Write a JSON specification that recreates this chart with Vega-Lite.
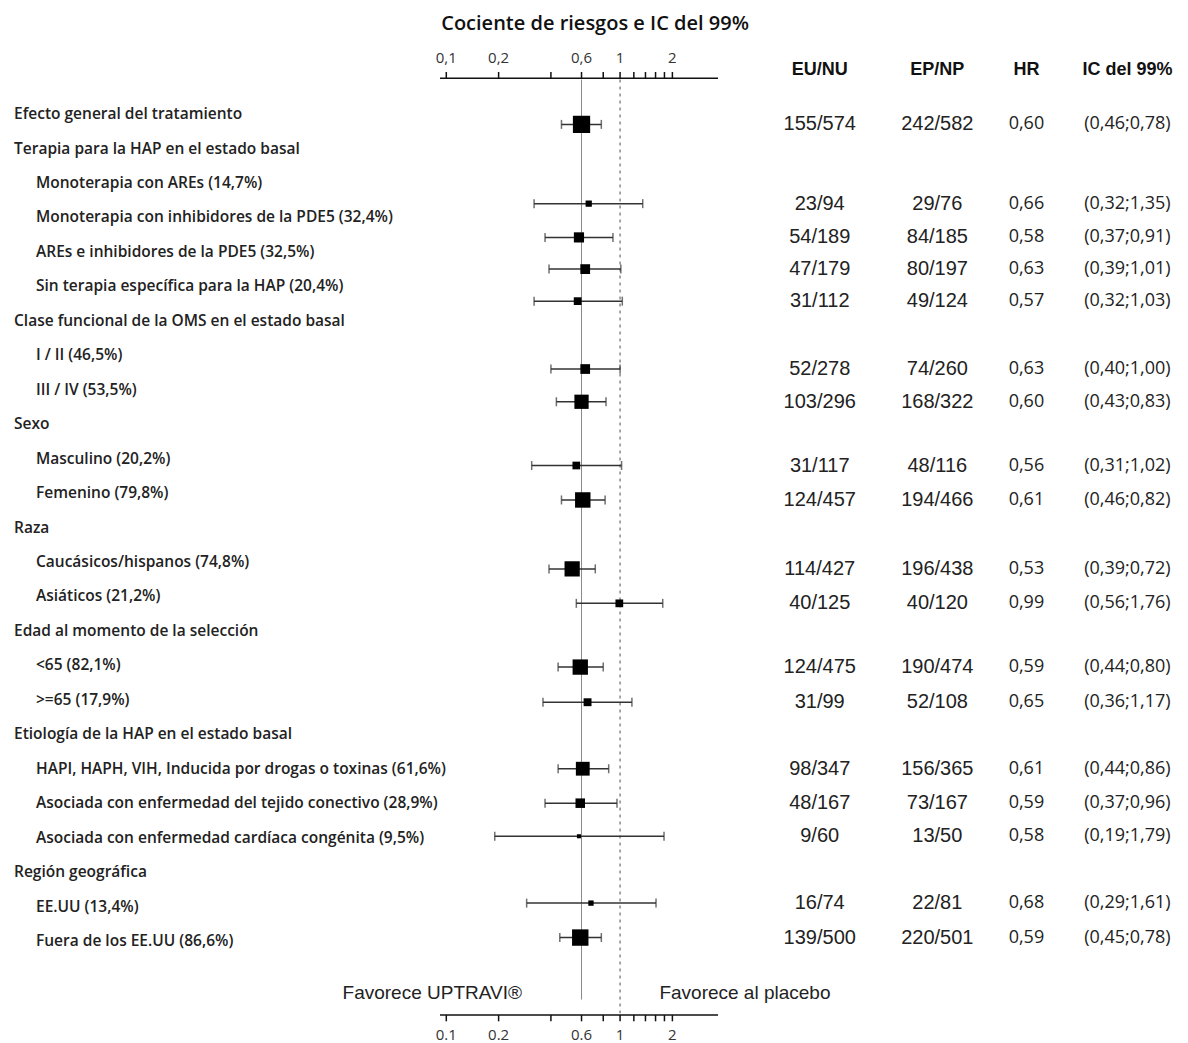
{
  "$schema": "https://vega.github.io/schema/vega-lite/v6.json",
  "width": 1188,
  "height": 1043,
  "padding": 0,
  "autosize": {"type": "fit", "contains": "padding"},
  "background": "white",
  "config": {"view": {"stroke": null}},
  "datasets": {
    "rows": [
      {"y": 0.3, "hr": 0.60, "lo": 0.46, "hi": 0.78, "n": 397, "eu": "155/574", "ep": "242/582", "hrt": "0,60", "ic": "(0,46;0,78)"},
      {"y": 2.6, "hr": 0.66, "lo": 0.32, "hi": 1.35, "n": 52, "eu": "23/94", "ep": "29/76", "hrt": "0,66", "ic": "(0,32;1,35)"},
      {"y": 3.58, "hr": 0.58, "lo": 0.37, "hi": 0.91, "n": 138, "eu": "54/189", "ep": "84/185", "hrt": "0,58", "ic": "(0,37;0,91)"},
      {"y": 4.5, "hr": 0.63, "lo": 0.39, "hi": 1.01, "n": 127, "eu": "47/179", "ep": "80/197", "hrt": "0,63", "ic": "(0,39;1,01)"},
      {"y": 5.43, "hr": 0.57, "lo": 0.32, "hi": 1.03, "n": 80, "eu": "31/112", "ep": "49/124", "hrt": "0,57", "ic": "(0,32;1,03)"},
      {"y": 7.4, "hr": 0.63, "lo": 0.40, "hi": 1.00, "n": 126, "eu": "52/278", "ep": "74/260", "hrt": "0,63", "ic": "(0,40;1,00)"},
      {"y": 8.35, "hr": 0.60, "lo": 0.43, "hi": 0.83, "n": 271, "eu": "103/296", "ep": "168/322", "hrt": "0,60", "ic": "(0,43;0,83)"},
      {"y": 10.2, "hr": 0.56, "lo": 0.31, "hi": 1.02, "n": 79, "eu": "31/117", "ep": "48/116", "hrt": "0,56", "ic": "(0,31;1,02)"},
      {"y": 11.2, "hr": 0.61, "lo": 0.46, "hi": 0.82, "n": 318, "eu": "124/457", "ep": "194/466", "hrt": "0,61", "ic": "(0,46;0,82)"},
      {"y": 13.2, "hr": 0.53, "lo": 0.39, "hi": 0.72, "n": 310, "eu": "114/427", "ep": "196/438", "hrt": "0,53", "ic": "(0,39;0,72)"},
      {"y": 14.2, "hr": 0.99, "lo": 0.56, "hi": 1.76, "n": 80, "eu": "40/125", "ep": "40/120", "hrt": "0,99", "ic": "(0,56;1,76)"},
      {"y": 16.05, "hr": 0.59, "lo": 0.44, "hi": 0.80, "n": 314, "eu": "124/475", "ep": "190/474", "hrt": "0,59", "ic": "(0,44;0,80)"},
      {"y": 17.07, "hr": 0.65, "lo": 0.36, "hi": 1.17, "n": 83, "eu": "31/99", "ep": "52/108", "hrt": "0,65", "ic": "(0,36;1,17)"},
      {"y": 19.0, "hr": 0.61, "lo": 0.44, "hi": 0.86, "n": 254, "eu": "98/347", "ep": "156/365", "hrt": "0,61", "ic": "(0,44;0,86)"},
      {"y": 20.0, "hr": 0.59, "lo": 0.37, "hi": 0.96, "n": 121, "eu": "48/167", "ep": "73/167", "hrt": "0,59", "ic": "(0,37;0,96)"},
      {"y": 20.96, "hr": 0.58, "lo": 0.19, "hi": 1.79, "n": 22, "eu": "9/60", "ep": "13/50", "hrt": "0,58", "ic": "(0,19;1,79)"},
      {"y": 22.9, "hr": 0.68, "lo": 0.29, "hi": 1.61, "n": 38, "eu": "16/74", "ep": "22/81", "hrt": "0,68", "ic": "(0,29;1,61)"},
      {"y": 23.9, "hr": 0.59, "lo": 0.45, "hi": 0.78, "n": 359, "eu": "139/500", "ep": "220/501", "hrt": "0,59", "ic": "(0,45;0,78)"}
    ],
    "cols": [
      {"col": "g", "pos": 1.18},
      {"col": "s", "pos": 3.03},
      {"col": "eu", "pos": 69.0},
      {"col": "ep", "pos": 78.9},
      {"col": "hrt", "pos": 86.4},
      {"col": "ic", "pos": 94.9}
    ],
    "labels": [
      {"k": 0, "col": "g", "t": "Efecto general del tratamiento"},
      {"k": 1, "col": "g", "t": "Terapia para la HAP en el estado basal"},
      {"k": 2, "col": "s", "t": "Monoterapia con AREs (14,7%)"},
      {"k": 3, "col": "s", "t": "Monoterapia con inhibidores de la PDE5 (32,4%)"},
      {"k": 4, "col": "s", "t": "AREs e inhibidores de la PDE5 (32,5%)"},
      {"k": 5, "col": "s", "t": "Sin terapia específica para la HAP (20,4%)"},
      {"k": 6, "col": "g", "t": "Clase funcional de la OMS  en el estado basal"},
      {"k": 7, "col": "s", "t": "I / II (46,5%)"},
      {"k": 8, "col": "s", "t": "III / IV (53,5%)"},
      {"k": 9, "col": "g", "t": "Sexo"},
      {"k": 10, "col": "s", "t": "Masculino (20,2%)"},
      {"k": 11, "col": "s", "t": "Femenino (79,8%)"},
      {"k": 12, "col": "g", "t": "Raza"},
      {"k": 13, "col": "s", "t": "Caucásicos/hispanos (74,8%)"},
      {"k": 14, "col": "s", "t": "Asiáticos (21,2%)"},
      {"k": 15, "col": "g", "t": "Edad al momento de la selección"},
      {"k": 16, "col": "s", "t": "<65 (82,1%)"},
      {"k": 17, "col": "s", "t": ">=65 (17,9%)"},
      {"k": 18, "col": "g", "t": "Etiología de la HAP en el estado basal"},
      {"k": 19, "col": "s", "t": "HAPI, HAPH, VIH, Inducida por drogas o toxinas (61,6%)"},
      {"k": 20, "col": "s", "t": "Asociada con enfermedad del tejido conectivo (28,9%)"},
      {"k": 21, "col": "s", "t": "Asociada con enfermedad cardíaca congénita (9,5%)"},
      {"k": 22, "col": "g", "t": "Región geográfica"},
      {"k": 23, "col": "s", "t": "EE.UU (13,4%)"},
      {"k": 24, "col": "s", "t": "Fuera de los EE.UU (86,6%)"}
    ],
    "ticksTop": [
      {"v": 0.1, "t": "0,1", "y": -1.04, "y2": -1.22, "ly": -1.62}, {"v": 0.2, "t": "0,2", "y": -1.04, "y2": -1.22, "ly": -1.62},
      {"v": 0.4, "t": "", "y": -1.04, "y2": -1.22, "ly": -1.62}, {"v": 0.6, "t": "0,6", "y": -1.04, "y2": -1.22, "ly": -1.62},
      {"v": 0.8, "t": "", "y": -1.04, "y2": -1.22, "ly": -1.62}, {"v": 1, "t": "1", "y": -1.04, "y2": -1.22, "ly": -1.62},
      {"v": 1.2, "t": "", "y": -1.04, "y2": -1.22, "ly": -1.62}, {"v": 1.4, "t": "", "y": -1.04, "y2": -1.22, "ly": -1.62},
      {"v": 1.6, "t": "", "y": -1.04, "y2": -1.22, "ly": -1.62}, {"v": 1.8, "t": "", "y": -1.04, "y2": -1.22, "ly": -1.62},
      {"v": 2, "t": "2", "y": -1.04, "y2": -1.22, "ly": -1.62}
    ],
    "ticksBottom": [
      {"v": 0.1, "t": "0.1", "y": 26.15, "y2": 26.33, "ly": 26.72}, {"v": 0.2, "t": "0.2", "y": 26.15, "y2": 26.33, "ly": 26.72},
      {"v": 0.4, "t": "", "y": 26.15, "y2": 26.33, "ly": 26.72}, {"v": 0.6, "t": "0.6", "y": 26.15, "y2": 26.33, "ly": 26.72},
      {"v": 0.8, "t": "", "y": 26.15, "y2": 26.33, "ly": 26.72}, {"v": 1, "t": "1", "y": 26.15, "y2": 26.33, "ly": 26.72},
      {"v": 1.2, "t": "", "y": 26.15, "y2": 26.33, "ly": 26.72}, {"v": 1.4, "t": "", "y": 26.15, "y2": 26.33, "ly": 26.72},
      {"v": 1.6, "t": "", "y": 26.15, "y2": 26.33, "ly": 26.72}, {"v": 1.8, "t": "", "y": 26.15, "y2": 26.33, "ly": 26.72},
      {"v": 2, "t": "2", "y": 26.15, "y2": 26.33, "ly": 26.72}
    ]
  },
  "resolve": {"scale": {"x": "independent"}},
  "layer": [
    {
      "encoding": {
        "y": {"field": "y", "type": "quantitative", "scale": {"domain": [-3.31, 26.96], "reverse": true, "nice": false, "zero": false}, "axis": null}
      },
      "layer": [
        {
          "data": {"values": [{"v": 0.6, "y": -1.0, "y2": 25.7}]},
          "mark": {"type": "rule", "color": "#8a8a8a", "strokeWidth": 1},
          "encoding": {
            "x": {"field": "v", "type": "quantitative", "scale": {"type": "log", "domain": [0.092, 3.66], "range": [440, 718], "nice": false}, "axis": null},
            "y2": {"field": "y2"}
          }
        },
        {
          "data": {"values": [{"v": 1, "y": -1.0, "y2": 26.1}]},
          "mark": {"type": "rule", "color": "#8a8a8a", "strokeWidth": 1.5, "strokeDash": [3, 4]},
          "encoding": {"x": {"field": "v", "type": "quantitative"}, "y2": {"field": "y2"}}
        },
        {
          "data": {"values": [{"a": 0.092, "b": 3.66, "y": -1.04}, {"a": 0.092, "b": 3.66, "y": 26.15}]},
          "mark": {"type": "rule", "color": "#111", "strokeWidth": 1.5},
          "encoding": {"x": {"field": "a", "type": "quantitative"}, "x2": {"field": "b"}}
        },
        {
          "data": {"name": "ticksTop"},
          "mark": {"type": "rule", "color": "#111", "strokeWidth": 1.5},
          "encoding": {"x": {"field": "v", "type": "quantitative"}, "y2": {"field": "y2"}}
        },
        {
          "data": {"name": "ticksBottom"},
          "mark": {"type": "rule", "color": "#111", "strokeWidth": 1.5},
          "encoding": {"x": {"field": "v", "type": "quantitative"}, "y2": {"field": "y2"}}
        },
        {
          "data": {"name": "ticksTop"},
          "mark": {"type": "text", "font": "Open Sans", "fontSize": 15, "color": "#333"},
          "encoding": {"x": {"field": "v", "type": "quantitative"}, "y": {"field": "ly", "type": "quantitative"}, "text": {"field": "t"}}
        },
        {
          "data": {"name": "ticksBottom"},
          "mark": {"type": "text", "font": "Open Sans", "fontSize": 15, "color": "#333"},
          "encoding": {"x": {"field": "v", "type": "quantitative"}, "y": {"field": "ly", "type": "quantitative"}, "text": {"field": "t"}}
        },
        {
          "data": {"name": "rows"},
          "mark": {"type": "rule", "color": "#333", "strokeWidth": 1.5},
          "encoding": {"x": {"field": "lo", "type": "quantitative"}, "x2": {"field": "hi"}}
        },
        {
          "data": {"name": "rows"},
          "mark": {"type": "tick", "orient": "vertical", "color": "#333", "size": 9, "thickness": 1.5},
          "encoding": {"x": {"field": "lo", "type": "quantitative"}}
        },
        {
          "data": {"name": "rows"},
          "mark": {"type": "tick", "orient": "vertical", "color": "#333", "size": 9, "thickness": 1.5},
          "encoding": {"x": {"field": "hi", "type": "quantitative"}}
        },
        {
          "data": {"name": "rows"},
          "mark": {"type": "square", "color": "#000", "opacity": 1, "filled": true},
          "encoding": {
            "x": {"field": "hr", "type": "quantitative"},
            "size": {"field": "n", "type": "quantitative", "scale": {"domain": [0, 400], "range": [0, 300]}, "legend": null}
          }
        },
        {
          "data": {"values": [
            {"v": 0.718, "y": -2.6, "t": "Cociente de riesgos e IC del 99%"}
          ]},
          "mark": {"type": "text", "font": "Open Sans", "fontSize": 20, "fontWeight": 600, "color": "#111"},
          "encoding": {"x": {"field": "v", "type": "quantitative"}, "text": {"field": "t"}}
        },
        {
          "data": {"values": [
            {"v": 0.083, "y": 25.5, "t": "Favorece UPTRAVI®"},
            {"v": 5.23, "y": 25.5, "t": "Favorece al placebo"}
          ]},
          "mark": {"type": "text", "font": "Liberation Sans", "fontSize": 19, "color": "#222"},
          "encoding": {"x": {"field": "v", "type": "quantitative"}, "text": {"field": "t"}}
        }
      ]
    },
    {
      "encoding": {
        "x": {"field": "pos", "type": "quantitative", "scale": {"domain": [0, 100], "nice": false, "zero": false}, "axis": null}
      },
      "layer": [
        {
          "data": {"name": "labels"},
          "transform": [{"lookup": "col", "from": {"data": {"name": "cols"}, "key": "col", "fields": ["pos"]}}],
          "mark": {"type": "text", "align": "left", "font": "Open Sans", "fontSize": 15.5, "fontWeight": 600, "color": "#222"},
          "encoding": {
            "y": {"field": "k", "type": "quantitative", "axis": null},
            "text": {"field": "t"}
          }
        },
        {
          "data": {"name": "rows"},
          "transform": [
            {"fold": ["eu", "ep"], "as": ["col", "val"]},
            {"lookup": "col", "from": {"data": {"name": "cols"}, "key": "col", "fields": ["pos"]}}
          ],
          "mark": {"type": "text", "font": "Liberation Sans", "fontSize": 20, "color": "#222"},
          "encoding": {
            "y": {"field": "y", "type": "quantitative"},
            "text": {"field": "val"}
          }
        },
        {
          "data": {"name": "rows"},
          "transform": [
            {"fold": ["hrt", "ic"], "as": ["col", "val"]},
            {"lookup": "col", "from": {"data": {"name": "cols"}, "key": "col", "fields": ["pos"]}}
          ],
          "mark": {"type": "text", "font": "Open Sans", "fontSize": 18, "color": "#222"},
          "encoding": {
            "y": {"field": "y", "type": "quantitative"},
            "text": {"field": "val"}
          }
        },
        {
          "data": {"values": [
            {"col": "eu", "y": -1.28, "t": "EU/NU", "f": "Liberation Sans"},
            {"col": "ep", "y": -1.28, "t": "EP/NP", "f": "Liberation Sans"},
            {"col": "hrt", "y": -1.28, "t": "HR", "f": "Liberation Sans"},
            {"col": "ic", "y": -1.28, "t": "IC del 99%", "f": "Open Sans"}
          ]},
          "transform": [{"lookup": "col", "from": {"data": {"name": "cols"}, "key": "col", "fields": ["pos"]}}],
          "mark": {"type": "text", "fontSize": 18, "fontWeight": "bold", "color": "#111"},
          "encoding": {
            "y": {"field": "y", "type": "quantitative"},
            "text": {"field": "t"},
            "font": {"field": "f", "type": "nominal", "legend": null}
          }
        }
      ]
    }
  ]
}
